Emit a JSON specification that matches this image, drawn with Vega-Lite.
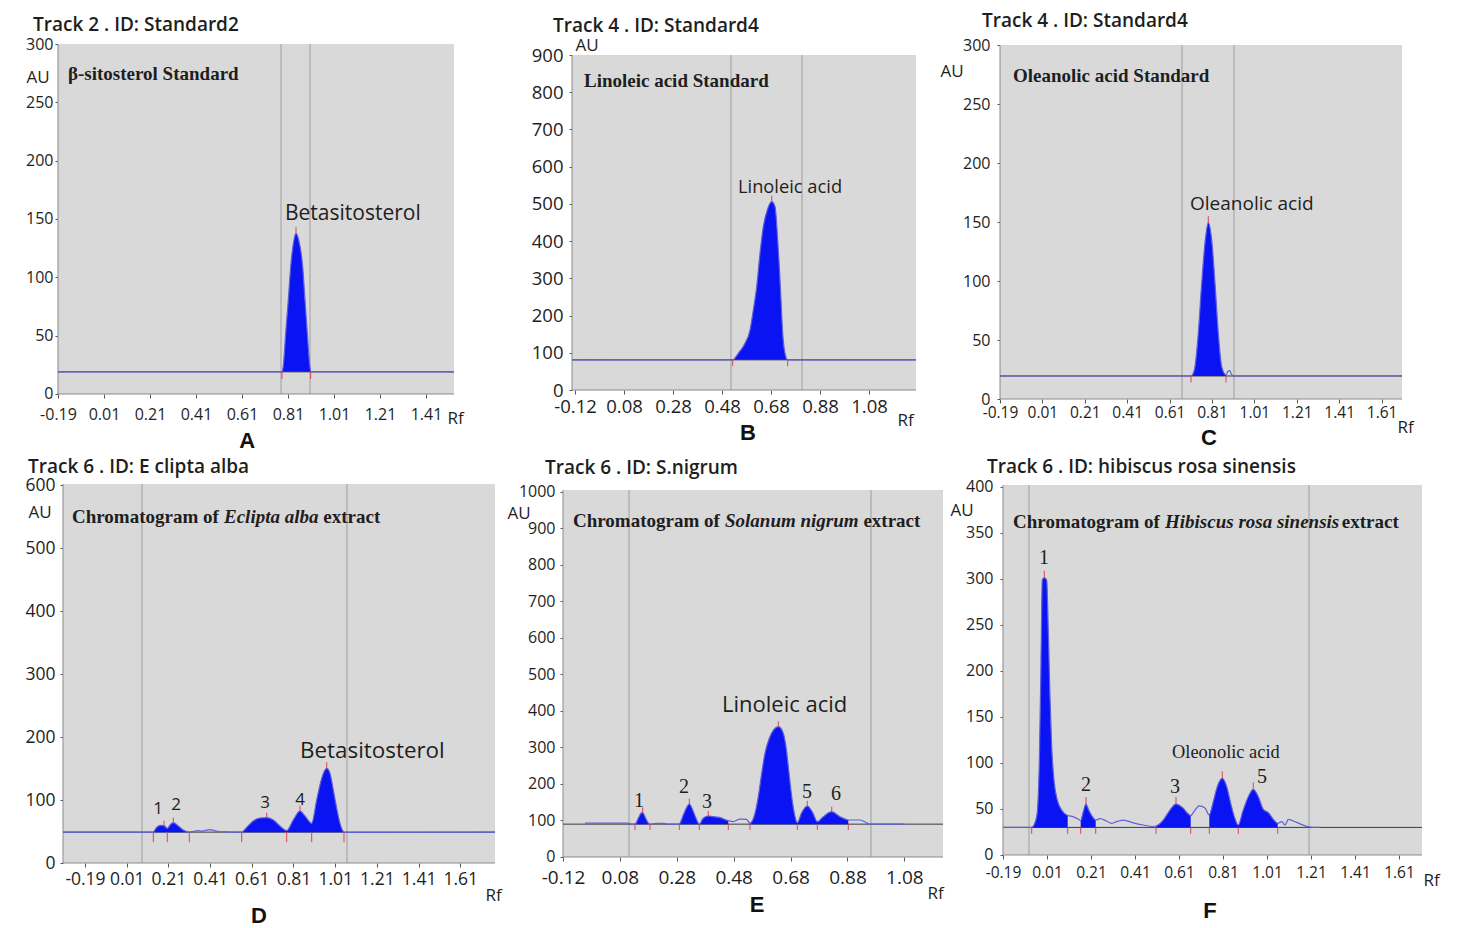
{
"$schema": "https://vega.github.io/schema/vega-lite/v6.json",
"autosize": {"type": "none"},
"padding": {"left": 58, "top": 44, "right": 1404, "bottom": 884},
"background": "#ffffff",
"columns": 3,
"spacing": {"row": 85, "column": 57},
"bounds": "flush",
"config": {
  "view": {"stroke": null},
  "font": "Open Sans",
  "title": {"anchor": "start", "frame": "group", "offset": 0, "baseline": "alphabetic", "font": "Open Sans", "fontSize": 19, "fontWeight": 600, "color": "#1e1e1e"},
  "axis": {"grid": false, "domain": false, "tickColor": "#555555", "labelColor": "#1e1e1e", "titleColor": "#1e1e1e", "labelFont": "Open Sans", "titleFont": "Open Sans", "titleFontSize": 17, "titleFontWeight": "normal", "labelFlush": false, "labelOverlap": false, "labelBound": false, "labelSeparation": -60, "titleAlign": "left", "titleBaseline": "alphabetic", "titlePadding": 0},
  "axisX": {"tickSize": 4, "labelAngle": 0},
  "axisY": {"tickSize": 3, "titleAngle": 0}
},
"datasets": {
  "one": [{}],
  "sigA": [
    {"x": -0.19, "y": 19, "g": 0},
    {"x": 0.7839, "y": 19, "g": 1}, {"x": 0.79, "y": 25, "g": 1}, {"x": 0.8, "y": 52, "g": 1}, {"x": 0.811, "y": 80, "g": 1}, {"x": 0.8217, "y": 109, "g": 1}, {"x": 0.836, "y": 132, "g": 1}, {"x": 0.8448, "y": 137.7, "g": 1}, {"x": 0.8565, "y": 132, "g": 1}, {"x": 0.8739, "y": 109, "g": 1}, {"x": 0.884, "y": 80, "g": 1}, {"x": 0.894, "y": 52, "g": 1}, {"x": 0.903, "y": 28, "g": 1}, {"x": 0.9087, "y": 19, "g": 1},
    {"x": 1.5317, "y": 19, "g": 0}
  ],
  "sigB": [
    {"x": -0.1322, "y": 81, "g": 0},
    {"x": 0.5237, "y": 80.6, "g": 1}, {"x": 0.5467, "y": 98.5, "g": 1}, {"x": 0.5739, "y": 125.4, "g": 1}, {"x": 0.5943, "y": 161.2, "g": 1}, {"x": 0.6078, "y": 214.9, "g": 1}, {"x": 0.6216, "y": 277.6, "g": 1}, {"x": 0.6351, "y": 367.2, "g": 1}, {"x": 0.6486, "y": 438.8, "g": 1}, {"x": 0.6649, "y": 483.6, "g": 1}, {"x": 0.6829, "y": 506, "g": 1}, {"x": 0.6963, "y": 492.6, "g": 1}, {"x": 0.7057, "y": 421, "g": 1}, {"x": 0.7139, "y": 331.4, "g": 1}, {"x": 0.7208, "y": 241.8, "g": 1}, {"x": 0.7277, "y": 152.3, "g": 1}, {"x": 0.7371, "y": 98.5, "g": 1}, {"x": 0.748, "y": 80.6, "g": 1},
    {"x": 1.2718, "y": 81, "g": 0}
  ],
  "sigC": [
    {"x": -0.19, "y": 19.5, "g": 0},
    {"x": 0.7109, "y": 19.5, "g": 1}, {"x": 0.7267, "y": 24.6, "g": 1}, {"x": 0.7454, "y": 55.7, "g": 1}, {"x": 0.7614, "y": 98, "g": 1}, {"x": 0.7784, "y": 134.7, "g": 1}, {"x": 0.7925, "y": 149.4, "g": 1}, {"x": 0.8086, "y": 134.7, "g": 1}, {"x": 0.8242, "y": 98, "g": 1}, {"x": 0.8397, "y": 55.7, "g": 1}, {"x": 0.8558, "y": 27.4, "g": 1}, {"x": 0.876, "y": 20.3, "g": 1},
    {"x": 0.885, "y": 23.5, "g": 0}, {"x": 0.893, "y": 24, "g": 0}, {"x": 0.902, "y": 21, "g": 0}, {"x": 0.91, "y": 19.5, "g": 0}, {"x": 1.7063, "y": 19.5, "g": 0}
  ],
  "sigD": [
    {"x": -0.2955, "y": 49, "g": 0},
    {"x": 0.1376, "y": 49, "g": 1}, {"x": 0.1539, "y": 56.6, "g": 1}, {"x": 0.1731, "y": 59.8, "g": 1}, {"x": 0.1889, "y": 59.2, "g": 1}, {"x": 0.2047, "y": 55, "g": 1}, {"x": 0.221, "y": 61.4, "g": 1}, {"x": 0.2335, "y": 64, "g": 1}, {"x": 0.2575, "y": 58.7, "g": 1}, {"x": 0.2815, "y": 52.4, "g": 1}, {"x": 0.3103, "y": 49, "g": 1},
    {"x": 0.33, "y": 50, "g": 0}, {"x": 0.35, "y": 51.5, "g": 0}, {"x": 0.37, "y": 50.5, "g": 0}, {"x": 0.39, "y": 52, "g": 0}, {"x": 0.41, "y": 53, "g": 0}, {"x": 0.43, "y": 51.5, "g": 0}, {"x": 0.45, "y": 50, "g": 0}, {"x": 0.48, "y": 49.5, "g": 0}, {"x": 0.52, "y": 49, "g": 0},
    {"x": 0.5616, "y": 49, "g": 2}, {"x": 0.5856, "y": 56.6, "g": 2}, {"x": 0.6172, "y": 66.7, "g": 2}, {"x": 0.6493, "y": 71.4, "g": 2}, {"x": 0.6815, "y": 72, "g": 2}, {"x": 0.7131, "y": 68.3, "g": 2}, {"x": 0.7453, "y": 58.7, "g": 2}, {"x": 0.7774, "y": 51.3, "g": 2}, {"x": 0.809, "y": 68.3, "g": 2}, {"x": 0.8412, "y": 82.5, "g": 2}, {"x": 0.8652, "y": 74.6, "g": 2}, {"x": 0.8973, "y": 63, "g": 2}, {"x": 0.9213, "y": 100, "g": 2}, {"x": 0.9453, "y": 134.4, "g": 2}, {"x": 0.9611, "y": 147.6, "g": 2}, {"x": 0.9693, "y": 150.3, "g": 2}, {"x": 0.9851, "y": 142.3, "g": 2}, {"x": 1.0009, "y": 115.9, "g": 2}, {"x": 1.0173, "y": 86.8, "g": 2}, {"x": 1.033, "y": 63, "g": 2}, {"x": 1.0522, "y": 48.7, "g": 2},
    {"x": 1.7764, "y": 49, "g": 0}
  ],
  "sigE": [
    {"x": -0.0427, "y": 93, "g": 0}, {"x": 0.1096, "y": 93, "g": 0}, {"x": 0.12, "y": 90, "g": 0},
    {"x": 0.1331, "y": 90, "g": 1}, {"x": 0.1447, "y": 106, "g": 1}, {"x": 0.1542, "y": 119.7, "g": 1}, {"x": 0.1601, "y": 121.5, "g": 1}, {"x": 0.1682, "y": 110.5, "g": 1}, {"x": 0.1764, "y": 96.8, "g": 1}, {"x": 0.1858, "y": 90, "g": 1},
    {"x": 0.2069, "y": 92, "g": 0}, {"x": 0.235, "y": 92, "g": 0}, {"x": 0.25, "y": 90, "g": 0},
    {"x": 0.2888, "y": 90, "g": 2}, {"x": 0.3029, "y": 115, "g": 2}, {"x": 0.3148, "y": 136, "g": 2}, {"x": 0.3239, "y": 145.2, "g": 2}, {"x": 0.3359, "y": 128.8, "g": 2}, {"x": 0.3475, "y": 106, "g": 2}, {"x": 0.3591, "y": 90, "g": 2}, {"x": 0.3731, "y": 106, "g": 2}, {"x": 0.3907, "y": 112.3, "g": 2}, {"x": 0.4083, "y": 110.5, "g": 2}, {"x": 0.4318, "y": 107.8, "g": 2}, {"x": 0.461, "y": 99.5, "g": 2},
    {"x": 0.4786, "y": 96.8, "g": 0}, {"x": 0.5021, "y": 104, "g": 0}, {"x": 0.5257, "y": 103, "g": 0},
    {"x": 0.5373, "y": 92, "g": 3}, {"x": 0.5549, "y": 119.7, "g": 3}, {"x": 0.5665, "y": 165.2, "g": 3}, {"x": 0.5784, "y": 229.3, "g": 3}, {"x": 0.59, "y": 284, "g": 3}, {"x": 0.6052, "y": 325.2, "g": 3}, {"x": 0.6217, "y": 349.9, "g": 3}, {"x": 0.6368, "y": 357, "g": 3}, {"x": 0.6523, "y": 343.3, "g": 3}, {"x": 0.6638, "y": 302.2, "g": 3}, {"x": 0.6733, "y": 238.4, "g": 3}, {"x": 0.6825, "y": 174.5, "g": 3}, {"x": 0.692, "y": 124.1, "g": 3}, {"x": 0.7036, "y": 94, "g": 3}, {"x": 0.719, "y": 121.5, "g": 3}, {"x": 0.7387, "y": 139.7, "g": 3}, {"x": 0.7577, "y": 121.5, "g": 3}, {"x": 0.7739, "y": 96.8, "g": 3}, {"x": 0.795, "y": 110.5, "g": 3}, {"x": 0.8245, "y": 124.1, "g": 3}, {"x": 0.8536, "y": 110.5, "g": 3}, {"x": 0.8828, "y": 101.4, "g": 3},
    {"x": 0.924, "y": 101.4, "g": 0}, {"x": 0.9591, "y": 90, "g": 0}, {"x": 1.08, "y": 90, "g": 0}
  ],
  "sigF": [
    {"x": -0.19, "y": 30, "g": 0},
    {"x": -0.0595, "y": 30, "g": 1}, {"x": -0.0368, "y": 41.7, "g": 1}, {"x": -0.025, "y": 99.6, "g": 1}, {"x": -0.0173, "y": 208, "g": 1}, {"x": -0.0114, "y": 299, "g": 1}, {"x": -0.0023, "y": 301.4, "g": 1}, {"x": 0.0086, "y": 299, "g": 1}, {"x": 0.0159, "y": 244.6, "g": 1}, {"x": 0.0236, "y": 172, "g": 1}, {"x": 0.0314, "y": 117.7, "g": 1}, {"x": 0.0418, "y": 81.5, "g": 1}, {"x": 0.0568, "y": 59.8, "g": 1}, {"x": 0.0768, "y": 48.9, "g": 1}, {"x": 0.0995, "y": 43.5, "g": 1}, {"x": 0.1041, "y": 43, "g": 1},
    {"x": 0.13, "y": 41.5, "g": 0}, {"x": 0.155, "y": 38.5, "g": 0},
    {"x": 0.1632, "y": 37.3, "g": 2}, {"x": 0.175, "y": 47, "g": 2}, {"x": 0.1873, "y": 55.4, "g": 2}, {"x": 0.1995, "y": 48.9, "g": 2}, {"x": 0.2145, "y": 42.4, "g": 2}, {"x": 0.2314, "y": 38, "g": 2},
    {"x": 0.251, "y": 39.5, "g": 0}, {"x": 0.28, "y": 37, "g": 0}, {"x": 0.304, "y": 34.4, "g": 0}, {"x": 0.33, "y": 36.5, "g": 0}, {"x": 0.357, "y": 38, "g": 0}, {"x": 0.402, "y": 35, "g": 0}, {"x": 0.448, "y": 32.6, "g": 0}, {"x": 0.49, "y": 31, "g": 0},
    {"x": 0.5055, "y": 31.5, "g": 3}, {"x": 0.5386, "y": 38, "g": 3}, {"x": 0.5691, "y": 48.9, "g": 3}, {"x": 0.5964, "y": 55.4, "g": 3}, {"x": 0.6268, "y": 51.4, "g": 3}, {"x": 0.6523, "y": 44.6, "g": 3}, {"x": 0.6632, "y": 42.8, "g": 3},
    {"x": 0.68, "y": 48, "g": 0}, {"x": 0.702, "y": 53.3, "g": 0}, {"x": 0.728, "y": 51, "g": 0},
    {"x": 0.7477, "y": 43.5, "g": 4}, {"x": 0.7659, "y": 58, "g": 4}, {"x": 0.7841, "y": 74.3, "g": 4}, {"x": 0.8068, "y": 83.3, "g": 4}, {"x": 0.8268, "y": 74.3, "g": 4}, {"x": 0.845, "y": 56.2, "g": 4}, {"x": 0.8614, "y": 41.7, "g": 4}, {"x": 0.8795, "y": 32.6, "g": 4}, {"x": 0.8995, "y": 47, "g": 4}, {"x": 0.925, "y": 63.4, "g": 4}, {"x": 0.9477, "y": 71.4, "g": 4}, {"x": 0.9705, "y": 63.4, "g": 4}, {"x": 0.9932, "y": 49.6, "g": 4}, {"x": 1.0159, "y": 46, "g": 4}, {"x": 1.0386, "y": 38.8, "g": 4}, {"x": 1.0586, "y": 34.4, "g": 4},
    {"x": 1.077, "y": 36.2, "g": 0}, {"x": 1.092, "y": 32.6, "g": 0}, {"x": 1.107, "y": 38.7, "g": 0}, {"x": 1.145, "y": 35.4, "g": 0}, {"x": 1.198, "y": 30.7, "g": 0}, {"x": 1.25, "y": 30, "g": 0}
  ]
},
"concat": [
{
  "width": 448, "height": 355,
  "title": {"text": "Track 2 . ID: Standard2", "dx": -25, "dy": 3},
  "layer": [
    {"data": {"name": "one"}, "mark": {"type": "rect", "color": "#d9d9d9"},
     "encoding": {
       "x": {"datum": -0.19, "type": "quantitative", "scale": {"domain": [-0.19, 1.7578], "nice": false, "zero": false},
             "axis": {"title": "Rf", "values": [-0.19, 0.01, 0.21, 0.41, 0.61, 0.81, 1.01, 1.21, 1.41], "labelExpr": "(datum.value < 0 ? '-' : '') + format(abs(datum.value), '.2f')", "labelFlush": false, "labelOverlap": false, "labelSeparation": -60, "labelFontSize": 16, "labelPadding": 8.6, "offset": -5, "titleX": 389, "titleY": 29}},
       "x2": {"datum": 1.5317},
       "y": {"datum": 0, "type": "quantitative", "scale": {"domain": [-4.286, 300], "nice": false, "zero": false},
             "axis": {"title": "AU", "values": [0, 50, 100, 150, 200, 250, 300], "tickCount": 7, "format": "d", "labelFlush": false, "labelOverlap": false, "labelSeparation": -60, "labelFontSize": 16, "labelPadding": 2, "titleX": -32, "titleY": 38}},
       "y2": {"datum": 300}}},
    {"data": {"values": [{"x": 0.7796}, {"x": 0.9057}]}, "mark": {"type": "rule", "color": "#9e9e9e"},
     "encoding": {"x": {"field": "x", "type": "quantitative"}, "y": {"datum": 0, "type": "quantitative"}, "y2": {"datum": 300}}},
    {"data": {"name": "one"}, "mark": {"type": "rule", "color": "#8a8a8a"}, "encoding": {"x": {"datum": -0.19, "type": "quantitative"}, "x2": {"datum": 1.5317}, "y": {"datum": 0, "type": "quantitative"}}},
    {"data": {"name": "one"}, "mark": {"type": "rule", "color": "#8a8a8a"}, "encoding": {"x": {"datum": -0.19, "type": "quantitative"}, "y": {"datum": 0, "type": "quantitative"}, "y2": {"datum": 300}}},
    {"data": {"name": "one"}, "mark": {"type": "rule", "color": "#3c3c3c"}, "encoding": {"x": {"datum": -0.19, "type": "quantitative"}, "x2": {"datum": 1.5317}, "y": {"datum": 19, "type": "quantitative"}}},
    {"data": {"name": "sigA"}, "transform": [{"filter": "datum.g > 0"}], "mark": {"type": "area", "color": "#0a14f2", "interpolate": "monotone"},
     "encoding": {"x": {"field": "x", "type": "quantitative"}, "y": {"field": "y", "type": "quantitative"}, "y2": {"datum": 19}, "detail": {"field": "g"}}},
    {"data": {"name": "sigA"}, "mark": {"type": "line", "color": "#5f5fdc", "strokeWidth": 1.2, "interpolate": "monotone"},
     "encoding": {"x": {"field": "x", "type": "quantitative"}, "y": {"field": "y", "type": "quantitative"}}},
    {"data": {"values": [{"x": 0.7839, "y": 19, "y2": 13}, {"x": 0.9087, "y": 19, "y2": 13}, {"x": 0.8448, "y": 137.7, "y2": 143}]}, "mark": {"type": "rule", "color": "#e0405a"},
     "encoding": {"x": {"field": "x", "type": "quantitative"}, "y": {"field": "y", "type": "quantitative"}, "y2": {"field": "y2"}}},
    {"data": {"values": [{"x": -0.1465, "y": 269.1, "t": "β-sitosterol Standard"}]}, "mark": {"type": "text", "font": "Liberation Serif", "fontWeight": "bold", "fontSize": 19, "align": "left", "baseline": "alphabetic", "color": "#1e1e1e"},
     "encoding": {"x": {"field": "x", "type": "quantitative"}, "y": {"field": "y", "type": "quantitative"}, "text": {"field": "t"}}},
    {"data": {"values": [{"x": 0.797, "y": 149.1, "t": "Betasitosterol"}]}, "mark": {"type": "text", "font": "Open Sans", "fontSize": 21, "align": "left", "baseline": "alphabetic", "color": "#1e1e1e"},
     "encoding": {"x": {"field": "x", "type": "quantitative"}, "y": {"field": "y", "type": "quantitative"}, "text": {"field": "t"}}},
    {"data": {"values": [{"x": 0.632, "y": -46.3, "t": "A"}]}, "mark": {"type": "text", "font": "Liberation Sans", "fontWeight": "bold", "fontSize": 22, "align": "center", "baseline": "alphabetic", "color": "#111111"},
     "encoding": {"x": {"field": "x", "type": "quantitative"}, "y": {"field": "y", "type": "quantitative"}, "text": {"field": "t"}}}
  ]
},
{
  "width": 380, "height": 355,
  "title": {"text": "Track 4 . ID: Standard4", "dx": -10, "dy": 3.6},
  "layer": [
    {"data": {"name": "one"}, "mark": {"type": "rect", "color": "#d9d9d9"},
     "encoding": {
       "x": {"datum": -0.1322, "type": "quantitative", "scale": {"domain": [-0.169, 1.382], "nice": false, "zero": false},
             "axis": {"title": "Rf", "values": [-0.12, 0.08, 0.28, 0.48, 0.68, 0.88, 1.08], "labelExpr": "(datum.value < 0 ? '-' : '') + format(abs(datum.value), '.2f')", "labelFlush": false, "labelOverlap": false, "labelSeparation": -60, "labelFontSize": 18.5, "labelPadding": 3, "offset": -9, "titleX": 334, "titleY": 35}},
       "x2": {"datum": 1.2718},
       "y": {"datum": 0, "type": "quantitative", "scale": {"domain": [-24.18, 929.6], "nice": false, "zero": false},
             "axis": {"title": "AU", "values": [0, 100, 200, 300, 400, 500, 600, 700, 800, 900], "tickCount": 10, "format": "d", "labelFlush": false, "labelOverlap": false, "labelSeparation": -60, "labelFontSize": 18.5, "labelPadding": 6, "offset": -9, "titleX": 3, "titleY": 6}},
       "y2": {"datum": 900}}},
    {"data": {"values": [{"x": 0.5167}, {"x": 0.8065}]}, "mark": {"type": "rule", "color": "#9e9e9e"},
     "encoding": {"x": {"field": "x", "type": "quantitative"}, "y": {"datum": 0, "type": "quantitative"}, "y2": {"datum": 900}}},
    {"data": {"name": "one"}, "mark": {"type": "rule", "color": "#8a8a8a"}, "encoding": {"x": {"datum": -0.1322, "type": "quantitative"}, "x2": {"datum": 1.2718}, "y": {"datum": 0, "type": "quantitative"}}},
    {"data": {"name": "one"}, "mark": {"type": "rule", "color": "#8a8a8a"}, "encoding": {"x": {"datum": -0.1322, "type": "quantitative"}, "y": {"datum": 0, "type": "quantitative"}, "y2": {"datum": 900}}},
    {"data": {"name": "one"}, "mark": {"type": "rule", "color": "#3c3c3c"}, "encoding": {"x": {"datum": -0.1322, "type": "quantitative"}, "x2": {"datum": 1.2718}, "y": {"datum": 81, "type": "quantitative"}}},
    {"data": {"name": "sigB"}, "transform": [{"filter": "datum.g > 0"}], "mark": {"type": "area", "color": "#0a14f2", "interpolate": "monotone"},
     "encoding": {"x": {"field": "x", "type": "quantitative"}, "y": {"field": "y", "type": "quantitative"}, "y2": {"datum": 81}, "detail": {"field": "g"}}},
    {"data": {"name": "sigB"}, "mark": {"type": "line", "color": "#5f5fdc", "strokeWidth": 1.2, "interpolate": "monotone"},
     "encoding": {"x": {"field": "x", "type": "quantitative"}, "y": {"field": "y", "type": "quantitative"}}},
    {"data": {"values": [{"x": 0.5237, "y": 81, "y2": 64}, {"x": 0.748, "y": 81, "y2": 64}, {"x": 0.6829, "y": 506, "y2": 522}]}, "mark": {"type": "rule", "color": "#e0405a"},
     "encoding": {"x": {"field": "x", "type": "quantitative"}, "y": {"field": "y", "type": "quantitative"}, "y2": {"field": "y2"}}},
    {"data": {"values": [{"x": -0.0833, "y": 814, "t": "Linoleic acid Standard"}]}, "mark": {"type": "text", "font": "Liberation Serif", "fontWeight": "bold", "fontSize": 19, "align": "left", "baseline": "alphabetic", "color": "#1e1e1e"},
     "encoding": {"x": {"field": "x", "type": "quantitative"}, "y": {"field": "y", "type": "quantitative"}, "text": {"field": "t"}}},
    {"data": {"values": [{"x": 0.5453, "y": 529.3, "t": "Linoleic acid"}]}, "mark": {"type": "text", "font": "Open Sans", "fontSize": 18.3, "align": "left", "baseline": "alphabetic", "color": "#1e1e1e"},
     "encoding": {"x": {"field": "x", "type": "quantitative"}, "y": {"field": "y", "type": "quantitative"}, "text": {"field": "t"}}},
    {"data": {"values": [{"x": 0.586, "y": -134, "t": "B"}]}, "mark": {"type": "text", "font": "Liberation Sans", "fontWeight": "bold", "fontSize": 22, "align": "center", "baseline": "alphabetic", "color": "#111111"},
     "encoding": {"x": {"field": "x", "type": "quantitative"}, "y": {"field": "y", "type": "quantitative"}, "text": {"field": "t"}}}
  ]
},
{
  "width": 422, "height": 355,
  "title": {"text": "Track 4 . ID: Standard4", "dx": -18, "dy": -2},
  "layer": [
    {"data": {"name": "one"}, "mark": {"type": "rect", "color": "#d9d9d9"},
     "encoding": {
       "x": {"datum": -0.19, "type": "quantitative", "scale": {"domain": [-0.19, 1.8006], "nice": false, "zero": false},
             "axis": {"title": "Rf", "values": [-0.19, 0.01, 0.21, 0.41, 0.61, 0.81, 1.01, 1.21, 1.41, 1.61], "labelExpr": "(datum.value < 0 ? '-' : '') + format(abs(datum.value), '.2f')", "labelFlush": false, "labelOverlap": false, "labelSeparation": -60, "labelFontSize": 15.5, "labelPadding": 2.3, "titleX": 397, "titleY": 33}},
       "x2": {"datum": 1.7063},
       "y": {"datum": 0, "type": "quantitative", "scale": {"domain": [0, 300.85], "nice": false, "zero": false},
             "axis": {"title": "AU", "values": [0, 50, 100, 150, 200, 250, 300], "tickCount": 7, "format": "d", "labelFlush": false, "labelOverlap": false, "labelSeparation": -60, "labelFontSize": 16, "labelPadding": 7, "titleX": -60, "titleY": 32}},
       "y2": {"datum": 300}}},
    {"data": {"values": [{"x": 0.6685}, {"x": 0.9138}]}, "mark": {"type": "rule", "color": "#9e9e9e"},
     "encoding": {"x": {"field": "x", "type": "quantitative"}, "y": {"datum": 0, "type": "quantitative"}, "y2": {"datum": 300}}},
    {"data": {"name": "one"}, "mark": {"type": "rule", "color": "#8a8a8a"}, "encoding": {"x": {"datum": -0.19, "type": "quantitative"}, "x2": {"datum": 1.7063}, "y": {"datum": 0, "type": "quantitative"}}},
    {"data": {"name": "one"}, "mark": {"type": "rule", "color": "#8a8a8a"}, "encoding": {"x": {"datum": -0.19, "type": "quantitative"}, "y": {"datum": 0, "type": "quantitative"}, "y2": {"datum": 300}}},
    {"data": {"name": "one"}, "mark": {"type": "rule", "color": "#3c3c3c"}, "encoding": {"x": {"datum": -0.19, "type": "quantitative"}, "x2": {"datum": 1.7063}, "y": {"datum": 19.5, "type": "quantitative"}}},
    {"data": {"name": "sigC"}, "transform": [{"filter": "datum.g > 0"}], "mark": {"type": "area", "color": "#0a14f2", "interpolate": "monotone"},
     "encoding": {"x": {"field": "x", "type": "quantitative"}, "y": {"field": "y", "type": "quantitative"}, "y2": {"datum": 19.5}, "detail": {"field": "g"}}},
    {"data": {"name": "sigC"}, "mark": {"type": "line", "color": "#5f5fdc", "strokeWidth": 1.2, "interpolate": "monotone"},
     "encoding": {"x": {"field": "x", "type": "quantitative"}, "y": {"field": "y", "type": "quantitative"}}},
    {"data": {"values": [{"x": 0.7109, "y": 19.5, "y2": 14}, {"x": 0.876, "y": 19.5, "y2": 14}, {"x": 0.7925, "y": 149.4, "y2": 155}]}, "mark": {"type": "rule", "color": "#e0405a"},
     "encoding": {"x": {"field": "x", "type": "quantitative"}, "y": {"field": "y", "type": "quantitative"}, "y2": {"field": "y2"}}},
    {"data": {"values": [{"x": -0.1287, "y": 268.6, "t": "Oleanolic acid Standard"}]}, "mark": {"type": "text", "font": "Liberation Serif", "fontWeight": "bold", "fontSize": 19, "align": "left", "baseline": "alphabetic", "color": "#1e1e1e"},
     "encoding": {"x": {"field": "x", "type": "quantitative"}, "y": {"field": "y", "type": "quantitative"}, "text": {"field": "t"}}},
    {"data": {"values": [{"x": 0.7062, "y": 160.2, "t": "Oleanolic acid"}]}, "mark": {"type": "text", "font": "Open Sans", "fontSize": 19, "align": "left", "baseline": "alphabetic", "color": "#1e1e1e"},
     "encoding": {"x": {"field": "x", "type": "quantitative"}, "y": {"field": "y", "type": "quantitative"}, "text": {"field": "t"}}},
    {"data": {"values": [{"x": 0.796, "y": -39, "t": "C"}]}, "mark": {"type": "text", "font": "Liberation Sans", "fontWeight": "bold", "fontSize": 22, "align": "center", "baseline": "alphabetic", "color": "#111111"},
     "encoding": {"x": {"field": "x", "type": "quantitative"}, "y": {"field": "y", "type": "quantitative"}, "text": {"field": "t"}}}
  ]
},
{
  "width": 448, "height": 379,
  "title": {"text": "Track 6 . ID: E clipta alba", "dx": -30, "dy": 5},
  "layer": [
    {"data": {"name": "one"}, "mark": {"type": "rect", "color": "#d9d9d9"},
     "encoding": {
       "x": {"datum": -0.2955, "type": "quantitative", "scale": {"domain": [-0.3195, 1.8292], "nice": false, "zero": false},
             "axis": {"title": "Rf", "values": [-0.19, 0.01, 0.21, 0.41, 0.61, 0.81, 1.01, 1.21, 1.41, 1.61], "labelExpr": "(datum.value < 0 ? '-' : '') + format(abs(datum.value), '.2f')", "labelFlush": false, "labelOverlap": false, "labelSeparation": -60, "labelFontSize": 17.5, "labelPadding": 3.4, "titleX": 427, "titleY": 37}},
       "x2": {"datum": 1.7764},
       "y": {"datum": 0, "type": "quantitative", "scale": {"domain": [0, 601.6], "nice": false, "zero": false},
             "axis": {"title": "AU", "values": [0, 100, 200, 300, 400, 500, 600], "tickCount": 7, "format": "d", "labelFlush": false, "labelOverlap": false, "labelSeparation": -60, "labelFontSize": 17.5, "labelPadding": 5, "offset": -5, "titleX": -35, "titleY": 33}},
       "y2": {"datum": 601.6}}},
    {"data": {"values": [{"x": 0.0834}, {"x": 1.0666}]}, "mark": {"type": "rule", "color": "#9e9e9e"},
     "encoding": {"x": {"field": "x", "type": "quantitative"}, "y": {"datum": 0, "type": "quantitative"}, "y2": {"datum": 601.6}}},
    {"data": {"name": "one"}, "mark": {"type": "rule", "color": "#8a8a8a"}, "encoding": {"x": {"datum": -0.2955, "type": "quantitative"}, "x2": {"datum": 1.7764}, "y": {"datum": 0, "type": "quantitative"}}},
    {"data": {"name": "one"}, "mark": {"type": "rule", "color": "#8a8a8a"}, "encoding": {"x": {"datum": -0.2955, "type": "quantitative"}, "y": {"datum": 0, "type": "quantitative"}, "y2": {"datum": 601.6}}},
    {"data": {"name": "one"}, "mark": {"type": "rule", "color": "#3c3c3c"}, "encoding": {"x": {"datum": -0.2955, "type": "quantitative"}, "x2": {"datum": 1.7764}, "y": {"datum": 49, "type": "quantitative"}}},
    {"data": {"name": "sigD"}, "transform": [{"filter": "datum.g > 0"}], "mark": {"type": "area", "color": "#0a14f2", "interpolate": "monotone"},
     "encoding": {"x": {"field": "x", "type": "quantitative"}, "y": {"field": "y", "type": "quantitative"}, "y2": {"datum": 49}, "detail": {"field": "g"}}},
    {"data": {"name": "sigD"}, "mark": {"type": "line", "color": "#5f5fdc", "strokeWidth": 1.2, "interpolate": "monotone"},
     "encoding": {"x": {"field": "x", "type": "quantitative"}, "y": {"field": "y", "type": "quantitative"}}},
    {"data": {"values": [{"x": 0.1376, "y": 49, "y2": 33}, {"x": 0.2047, "y": 49, "y2": 33}, {"x": 0.3103, "y": 49, "y2": 33}, {"x": 0.5616, "y": 49, "y2": 33}, {"x": 0.7774, "y": 49, "y2": 33}, {"x": 0.8973, "y": 49, "y2": 33}, {"x": 1.0522, "y": 49, "y2": 33}, {"x": 0.1889, "y": 59, "y2": 67}, {"x": 0.2335, "y": 64, "y2": 72}, {"x": 0.6815, "y": 72, "y2": 80}, {"x": 0.8412, "y": 82.5, "y2": 91}, {"x": 0.9693, "y": 150, "y2": 160}]}, "mark": {"type": "rule", "color": "#e0405a"},
     "encoding": {"x": {"field": "x", "type": "quantitative"}, "y": {"field": "y", "type": "quantitative"}, "y2": {"field": "y2"}}},
    {"data": {"values": [{"x": -0.2524, "y": 539.7, "t": "Chromatogram of"}, {"x": 0.9527, "y": 539.7, "t": "extract"}]}, "mark": {"type": "text", "font": "Liberation Serif", "fontWeight": "bold", "fontSize": 19, "align": "left", "baseline": "alphabetic", "color": "#1e1e1e"},
     "encoding": {"x": {"field": "x", "type": "quantitative"}, "y": {"field": "y", "type": "quantitative"}, "text": {"field": "t"}}},
    {"data": {"values": [{"x": 0.4767, "y": 539.7, "t": "Eclipta alba"}]}, "mark": {"type": "text", "font": "Liberation Serif", "fontWeight": "bold", "fontStyle": "italic", "fontSize": 19, "align": "left", "baseline": "alphabetic", "color": "#1e1e1e"},
     "encoding": {"x": {"field": "x", "type": "quantitative"}, "y": {"field": "y", "type": "quantitative"}, "text": {"field": "t"}}},
    {"data": {"values": [{"x": 0.8412, "y": 166.7, "t": "Betasitosterol"}]}, "mark": {"type": "text", "font": "Open Sans", "fontSize": 22.4, "align": "left", "baseline": "alphabetic", "color": "#1e1e1e"},
     "encoding": {"x": {"field": "x", "type": "quantitative"}, "y": {"field": "y", "type": "quantitative"}, "text": {"field": "t"}}},
    {"data": {"values": [{"x": 0.1601, "y": 77.8, "t": "1"}, {"x": 0.2464, "y": 84.1, "t": "2"}, {"x": 0.6733, "y": 87.3, "t": "3"}, {"x": 0.8412, "y": 92.1, "t": "4"}]}, "mark": {"type": "text", "font": "Open Sans", "fontSize": 17, "align": "center", "baseline": "alphabetic", "color": "#1e1e1e"},
     "encoding": {"x": {"field": "x", "type": "quantitative"}, "y": {"field": "y", "type": "quantitative"}, "text": {"field": "t"}}},
    {"data": {"values": [{"x": 0.6445, "y": -95.2, "t": "D"}]}, "mark": {"type": "text", "font": "Liberation Sans", "fontWeight": "bold", "fontSize": 22, "align": "center", "baseline": "alphabetic", "color": "#111111"},
     "encoding": {"x": {"field": "x", "type": "quantitative"}, "y": {"field": "y", "type": "quantitative"}, "text": {"field": "t"}}}
  ]
},
{
  "width": 380, "height": 379,
  "title": {"text": "Track 6 . ID: S.nigrum", "dx": -18, "dy": -2},
  "layer": [
    {"data": {"name": "one"}, "mark": {"type": "rect", "color": "#d9d9d9"},
     "encoding": {
       "x": {"datum": -0.12, "type": "quantitative", "scale": {"domain": [-0.12, 1.2157], "nice": false, "zero": false},
             "axis": {"title": "Rf", "values": [-0.12, 0.08, 0.28, 0.48, 0.68, 0.88, 1.08], "labelExpr": "(datum.value < 0 ? '-' : '') + format(abs(datum.value), '.2f')", "labelFlush": false, "labelOverlap": false, "labelSeparation": -60, "labelFontSize": 19, "labelPadding": 7.8, "offset": -6, "titleX": 364, "titleY": 41}},
       "x2": {"datum": 1.2157},
       "y": {"datum": 0, "type": "quantitative", "scale": {"domain": [-16.44, 1021.9], "nice": false, "zero": false},
             "axis": {"title": "AU", "values": [0, 100, 200, 300, 400, 500, 600, 700, 800, 900, 1000], "tickCount": 11, "format": "d", "labelFlush": false, "labelOverlap": false, "labelSeparation": -60, "labelFontSize": 16, "labelPadding": 5, "titleX": -56, "titleY": 34}},
       "y2": {"datum": 1005.5}}},
    {"data": {"values": [{"x": 0.112}, {"x": 0.9626}]}, "mark": {"type": "rule", "color": "#9e9e9e"},
     "encoding": {"x": {"field": "x", "type": "quantitative"}, "y": {"datum": 0, "type": "quantitative"}, "y2": {"datum": 1005.5}}},
    {"data": {"name": "one"}, "mark": {"type": "rule", "color": "#8a8a8a"}, "encoding": {"x": {"datum": -0.12, "type": "quantitative"}, "x2": {"datum": 1.2157}, "y": {"datum": 0, "type": "quantitative"}}},
    {"data": {"name": "one"}, "mark": {"type": "rule", "color": "#8a8a8a"}, "encoding": {"x": {"datum": -0.12, "type": "quantitative"}, "y": {"datum": 0, "type": "quantitative"}, "y2": {"datum": 1005.5}}},
    {"data": {"name": "one"}, "mark": {"type": "rule", "color": "#3c3c3c"}, "encoding": {"x": {"datum": -0.12, "type": "quantitative"}, "x2": {"datum": 1.2157}, "y": {"datum": 90, "type": "quantitative"}}},
    {"data": {"name": "sigE"}, "transform": [{"filter": "datum.g > 0"}], "mark": {"type": "area", "color": "#0a14f2", "interpolate": "monotone"},
     "encoding": {"x": {"field": "x", "type": "quantitative"}, "y": {"field": "y", "type": "quantitative"}, "y2": {"datum": 90}, "detail": {"field": "g"}}},
    {"data": {"name": "sigE"}, "mark": {"type": "line", "color": "#5f5fdc", "strokeWidth": 1.2, "interpolate": "monotone"},
     "encoding": {"x": {"field": "x", "type": "quantitative"}, "y": {"field": "y", "type": "quantitative"}}},
    {"data": {"values": [{"x": 0.1331, "y": 90, "y2": 74}, {"x": 0.1858, "y": 90, "y2": 74}, {"x": 0.2888, "y": 90, "y2": 74}, {"x": 0.3591, "y": 90, "y2": 74}, {"x": 0.461, "y": 90, "y2": 74}, {"x": 0.5373, "y": 90, "y2": 74}, {"x": 0.7036, "y": 90, "y2": 74}, {"x": 0.7739, "y": 90, "y2": 74}, {"x": 0.8828, "y": 90, "y2": 74}, {"x": 0.1601, "y": 121.5, "y2": 136}, {"x": 0.3239, "y": 145.2, "y2": 160}, {"x": 0.3907, "y": 112.3, "y2": 126}, {"x": 0.6368, "y": 357, "y2": 372}, {"x": 0.7387, "y": 139.7, "y2": 154}, {"x": 0.8245, "y": 124.1, "y2": 138}]}, "mark": {"type": "rule", "color": "#e0405a"},
     "encoding": {"x": {"field": "x", "type": "quantitative"}, "y": {"field": "y", "type": "quantitative"}, "y2": {"field": "y2"}}},
    {"data": {"values": [{"x": -0.0849, "y": 904.1, "t": "Chromatogram of"}, {"x": 0.9359, "y": 904.1, "t": "extract"}]}, "mark": {"type": "text", "font": "Liberation Serif", "fontWeight": "bold", "fontSize": 19, "align": "left", "baseline": "alphabetic", "color": "#1e1e1e"},
     "encoding": {"x": {"field": "x", "type": "quantitative"}, "y": {"field": "y", "type": "quantitative"}, "text": {"field": "t"}}},
    {"data": {"values": [{"x": 0.4494, "y": 904.1, "t": "Solanum nigrum"}]}, "mark": {"type": "text", "font": "Liberation Serif", "fontWeight": "bold", "fontStyle": "italic", "fontSize": 19, "align": "left", "baseline": "alphabetic", "color": "#1e1e1e"},
     "encoding": {"x": {"field": "x", "type": "quantitative"}, "y": {"field": "y", "type": "quantitative"}, "text": {"field": "t"}}},
    {"data": {"values": [{"x": 0.4389, "y": 397.3, "t": "Linoleic acid"}]}, "mark": {"type": "text", "font": "Open Sans", "fontSize": 22, "align": "left", "baseline": "alphabetic", "color": "#1e1e1e"},
     "encoding": {"x": {"field": "x", "type": "quantitative"}, "y": {"field": "y", "type": "quantitative"}, "text": {"field": "t"}}},
    {"data": {"values": [{"x": 0.1471, "y": 137, "t": "1"}, {"x": 0.3053, "y": 175.3, "t": "2"}, {"x": 0.3862, "y": 134.2, "t": "3"}, {"x": 0.7376, "y": 161.6, "t": "5"}, {"x": 0.8396, "y": 156.2, "t": "6"}]}, "mark": {"type": "text", "font": "Liberation Serif", "fontSize": 20, "align": "center", "baseline": "alphabetic", "color": "#1e1e1e"},
     "encoding": {"x": {"field": "x", "type": "quantitative"}, "y": {"field": "y", "type": "quantitative"}, "text": {"field": "t"}}},
    {"data": {"values": [{"x": 0.562, "y": -150.7, "t": "E"}]}, "mark": {"type": "text", "font": "Liberation Sans", "fontWeight": "bold", "fontSize": 22, "align": "center", "baseline": "alphabetic", "color": "#111111"},
     "encoding": {"x": {"field": "x", "type": "quantitative"}, "y": {"field": "y", "type": "quantitative"}, "text": {"field": "t"}}}
  ]
},
{
  "width": 422, "height": 379,
  "title": {"text": "Track 6 . ID: hibiscus rosa sinensis", "dx": -13, "dy": 2},
  "layer": [
    {"data": {"name": "one"}, "mark": {"type": "rect", "color": "#d9d9d9"},
     "encoding": {
       "x": {"datum": -0.19, "type": "quantitative", "scale": {"domain": [-0.2036, 1.7145], "nice": false, "zero": false},
             "axis": {"title": "Rf", "values": [-0.19, 0.01, 0.21, 0.41, 0.61, 0.81, 1.01, 1.21, 1.41, 1.61], "labelExpr": "(datum.value < 0 ? '-' : '') + format(abs(datum.value), '.2f')", "labelFlush": false, "labelOverlap": false, "labelSeparation": -60, "labelFontSize": 15.5, "labelPadding": 6.3, "offset": -8, "titleX": 423, "titleY": 30}},
       "x2": {"datum": 1.7145},
       "y": {"datum": 0, "type": "quantitative", "scale": {"domain": [-8.7, 403.26], "nice": false, "zero": false},
             "axis": {"title": "AU", "values": [0, 50, 100, 150, 200, 250, 300, 350, 400], "tickCount": 9, "format": "d", "labelFlush": false, "labelOverlap": false, "labelSeparation": -60, "labelFontSize": 16, "labelPadding": 7, "offset": -3, "titleX": -53, "titleY": 31}},
       "y2": {"datum": 402.2}}},
    {"data": {"values": [{"x": -0.0718}, {"x": 1.2009}]}, "mark": {"type": "rule", "color": "#9e9e9e"},
     "encoding": {"x": {"field": "x", "type": "quantitative"}, "y": {"datum": 0, "type": "quantitative"}, "y2": {"datum": 402.2}}},
    {"data": {"name": "one"}, "mark": {"type": "rule", "color": "#8a8a8a"}, "encoding": {"x": {"datum": -0.19, "type": "quantitative"}, "x2": {"datum": 1.7145}, "y": {"datum": 0, "type": "quantitative"}}},
    {"data": {"name": "one"}, "mark": {"type": "rule", "color": "#8a8a8a"}, "encoding": {"x": {"datum": -0.19, "type": "quantitative"}, "y": {"datum": 0, "type": "quantitative"}, "y2": {"datum": 402.2}}},
    {"data": {"name": "one"}, "mark": {"type": "rule", "color": "#3c3c3c"}, "encoding": {"x": {"datum": -0.19, "type": "quantitative"}, "x2": {"datum": 1.7145}, "y": {"datum": 30, "type": "quantitative"}}},
    {"data": {"name": "sigF"}, "transform": [{"filter": "datum.g > 0"}], "mark": {"type": "area", "color": "#0a14f2", "interpolate": "monotone"},
     "encoding": {"x": {"field": "x", "type": "quantitative"}, "y": {"field": "y", "type": "quantitative"}, "y2": {"datum": 30}, "detail": {"field": "g"}}},
    {"data": {"name": "sigF"}, "mark": {"type": "line", "color": "#5f5fdc", "strokeWidth": 1.2, "interpolate": "monotone"},
     "encoding": {"x": {"field": "x", "type": "quantitative"}, "y": {"field": "y", "type": "quantitative"}}},
    {"data": {"values": [{"x": -0.0595, "y": 30, "y2": 23}, {"x": 0.1041, "y": 30, "y2": 23}, {"x": 0.1632, "y": 30, "y2": 23}, {"x": 0.2314, "y": 30, "y2": 23}, {"x": 0.5055, "y": 30, "y2": 23}, {"x": 0.6632, "y": 30, "y2": 23}, {"x": 0.7477, "y": 30, "y2": 23}, {"x": 0.8795, "y": 30, "y2": 23}, {"x": 1.0586, "y": 30, "y2": 23}, {"x": -0.0023, "y": 301.4, "y2": 309}, {"x": 0.1873, "y": 55.4, "y2": 63}, {"x": 0.5964, "y": 55.4, "y2": 63}, {"x": 0.8068, "y": 83.3, "y2": 91}, {"x": 0.9477, "y": 71.4, "y2": 79}]}, "mark": {"type": "rule", "color": "#e0405a"},
     "encoding": {"x": {"field": "x", "type": "quantitative"}, "y": {"field": "y", "type": "quantitative"}, "y2": {"field": "y2"}}},
    {"data": {"values": [{"x": -0.1445, "y": 355.4, "t": "Chromatogram of"}, {"x": 1.35, "y": 355.4, "t": "extract"}]}, "mark": {"type": "text", "font": "Liberation Serif", "fontWeight": "bold", "fontSize": 19, "align": "left", "baseline": "alphabetic", "color": "#1e1e1e"},
     "encoding": {"x": {"field": "x", "type": "quantitative"}, "y": {"field": "y", "type": "quantitative"}, "text": {"field": "t"}}},
    {"data": {"values": [{"x": 0.5464, "y": 355.4, "t": "Hibiscus rosa sinensis"}]}, "mark": {"type": "text", "font": "Liberation Serif", "fontWeight": "bold", "fontStyle": "italic", "fontSize": 19, "align": "left", "baseline": "alphabetic", "color": "#1e1e1e"},
     "encoding": {"x": {"field": "x", "type": "quantitative"}, "y": {"field": "y", "type": "quantitative"}, "text": {"field": "t"}}},
    {"data": {"values": [{"x": 0.5782, "y": 105.4, "t": "Oleonolic acid"}]}, "mark": {"type": "text", "font": "Liberation Serif", "fontSize": 18.4, "align": "left", "baseline": "alphabetic", "color": "#1e1e1e"},
     "encoding": {"x": {"field": "x", "type": "quantitative"}, "y": {"field": "y", "type": "quantitative"}, "text": {"field": "t"}}},
    {"data": {"values": [{"x": -0.0036, "y": 316.3, "t": "1"}, {"x": 0.1873, "y": 69.6, "t": "2"}, {"x": 0.5918, "y": 67.4, "t": "3"}, {"x": 0.9873, "y": 78.3, "t": "5"}]}, "mark": {"type": "text", "font": "Liberation Serif", "fontSize": 20, "align": "center", "baseline": "alphabetic", "color": "#1e1e1e"},
     "encoding": {"x": {"field": "x", "type": "quantitative"}, "y": {"field": "y", "type": "quantitative"}, "text": {"field": "t"}}},
    {"data": {"values": [{"x": 0.751, "y": -68.5, "t": "F"}]}, "mark": {"type": "text", "font": "Liberation Sans", "fontWeight": "bold", "fontSize": 22, "align": "center", "baseline": "alphabetic", "color": "#111111"},
     "encoding": {"x": {"field": "x", "type": "quantitative"}, "y": {"field": "y", "type": "quantitative"}, "text": {"field": "t"}}}
  ]
}
]
}
